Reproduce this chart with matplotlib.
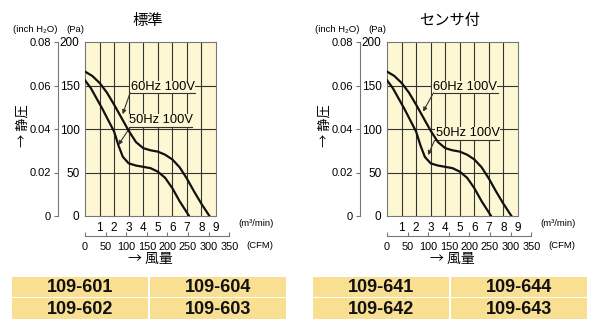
import numpy as np
import matplotlib
matplotlib.use('Agg')
import matplotlib.pyplot as plt
from matplotlib.patches import Rectangle

# fan P-Q curves, airflow in m3/min, static pressure in Pa
flow_60 = [0, 0.5, 1.0, 1.5, 2.0, 2.5, 3.0, 3.5, 4.0, 4.5, 5.0, 5.5, 6.0, 6.5, 7.0, 7.5, 8.0, 8.55]
pres_60 = [166, 161, 153, 142, 128, 113, 98, 85, 78, 75.5, 74, 70.5, 65, 56, 43, 28, 14, 0]
flow_50 = [0, 0.4, 0.8, 1.2, 1.6, 2.0, 2.15, 2.3, 2.6, 3.0, 3.5, 4.0, 4.5, 5.0, 5.5, 6.0, 6.5, 7.0, 7.15]
pres_50 = [156, 147, 135, 123, 110, 97, 89, 81, 68, 60.5, 58, 56.5, 55, 51, 44, 32, 17, 4, 0]

titles = ['標準', 'センサ付']
models_std = [['109-601', '109-604'], ['109-602', '109-603']]
models_sensor = [['109-641', '109-644'], ['109-642', '109-643']]

m3_ticks = [1, 2, 3, 4, 5, 6, 7, 8, 9]
pa_ticks = [0, 50, 100, 150, 200]
inch_ticks = [0, 0.02, 0.04, 0.06, 0.08]
inch_labels = ['0', '0.02', '0.04', '0.06', '0.08']
cfm_ticks = [0, 50, 100, 150, 200, 250, 300, 350]

W, H = 604, 332
NUM = ['Liberation Sans', 'DejaVu Sans']
JP = ['Noto Sans CJK JP', 'DejaVu Sans']
BG = '#fdf8d3'
CELL = '#f8df92'


def fx(px):
    return px / W


def fy(py):
    return 1 - py / H


fig = plt.figure(figsize=(W / 100, H / 100), dpi=100)
fig.patch.set_facecolor('white')


def panel(x0, title, models, tbl_x, lbl60, lbl50):
    pw, ph = 131, 174
    ax = fig.add_axes([fx(x0), fy(216), pw / W, ph / H])
    ax.set_facecolor(BG)
    ax.set_xlim(0, 9)
    ax.set_ylim(0, 200)
    for v in range(1, 9):
        ax.axvline(v, color='#333333', lw=0.8, zorder=1)
    for v in [50, 100, 150]:
        ax.axhline(v, color='#333333', lw=0.8, zorder=1)
    for s in ax.spines.values():
        s.set_color('#777777')
        s.set_linewidth(0.8)
    ax.plot(flow_60, pres_60, color='#111111', lw=1.6, zorder=5)
    ax.plot(flow_50, pres_50, color='#111111', lw=1.6, zorder=5)

    ax.set_xticks(m3_ticks)
    ax.set_xticklabels([str(t) for t in m3_ticks], family=NUM, fontsize=8.5)
    ax.set_yticks(pa_ticks)
    ax.set_yticklabels([str(t) for t in pa_ticks], family=NUM, fontsize=8.5)
    ax.tick_params(length=0, pad=4)

    # curve labels with underline and leader arrow
    for (tx, ty, ux0, ux1, uy, px, py), txt in [(lbl60, '60Hz 100V'), (lbl50, '50Hz 100V')]:
        ax.text(tx, ty, txt, ha='center', va='center', family=NUM, fontsize=9.3,
                zorder=4, bbox=dict(facecolor=BG, edgecolor='none', pad=0.3))
        ax.plot([ux0, ux1], [uy, uy], color='#333333', lw=0.8, zorder=4)
        ax.annotate('', xy=(px, py), xytext=(ux0, uy), zorder=4,
                    arrowprops=dict(arrowstyle='-|>', color='#333333', lw=0.8,
                                    mutation_scale=6, shrinkA=0, shrinkB=0))

    # inch H2O scale
    ax_in = fig.add_axes([fx(x0 - 27), fy(216), 0.0001, ph / H])
    ax_in.set_ylim(0, 0.08)
    ax_in.set_yticks(inch_ticks)
    ax_in.set_yticklabels(inch_labels, family=NUM, fontsize=8)
    ax_in.set_xticks([])
    for k in ['top', 'right', 'bottom']:
        ax_in.spines[k].set_visible(False)
    ax_in.spines['left'].set_color('#777777')
    ax_in.tick_params(axis='y', length=3, pad=2, color='#777777')
    ax_in.patch.set_visible(False)

    # CFM scale
    cfm_w = pw * 350 / (9 * 35.31)
    ax_c = fig.add_axes([fx(x0), fy(236), cfm_w / W, 0.0001])
    ax_c.set_xlim(0, 350)
    ax_c.set_xticks(cfm_ticks)
    ax_c.set_xticklabels([str(t) for t in cfm_ticks], family=NUM, fontsize=7.8)
    ax_c.set_yticks([])
    for k in ['top', 'right', 'left']:
        ax_c.spines[k].set_visible(False)
    ax_c.spines['bottom'].set_color('#777777')
    ax_c.tick_params(axis='x', direction='in', length=3, pad=4, color='#777777')
    ax_c.patch.set_visible(False)

    fig.text(fx(x0 + 63), fy(21), title, ha='center', va='center', family=JP, fontsize=11)
    fig.text(fx(x0 - 50), fy(30), '(inch H₂O)', ha='center', va='center', family=NUM, fontsize=6.8)
    fig.text(fx(x0 - 10), fy(30), '(Pa)', ha='center', va='center', family=NUM, fontsize=6.8)
    fig.text(fx(x0 + 171), fy(224), '(m³/min)', ha='center', va='center', family=NUM, fontsize=6.8)
    fig.text(fx(x0 + 175), fy(245), '(CFM)', ha='center', va='center', family=NUM, fontsize=6.8)
    fig.text(fx(x0 - 62), fy(126), '→ 静圧', ha='center', va='center', rotation=90,
             family=JP, fontsize=9.5)
    fig.text(fx(x0 + 65), fy(259), '→ 風量', ha='center', va='center', family=JP, fontsize=10)

    # model number table
    rows = [(277, 297), (298, 319)]
    cols = [(tbl_x, tbl_x + 136), (tbl_x + 138, tbl_x + 274)]
    for r, (ry0, ry1) in enumerate(rows):
        for c, (cx0, cx1) in enumerate(cols):
            fig.add_artist(Rectangle((fx(cx0), fy(ry1)), (cx1 - cx0) / W, (ry1 - ry0) / H,
                                     transform=fig.transFigure, facecolor=CELL, edgecolor='none'))
            fig.text(fx((cx0 + cx1) / 2), fy((ry0 + ry1) / 2 + 0.5), models[r][c],
                     ha='center', va='center', family=NUM, fontsize=13, weight='bold',
                     color='#111111')


panel(85, titles[0], models_std, 12,
      (5.35, 148, 3.1, 7.55, 141.7, 2.59, 117),
      (5.25, 110, 3.1, 7.33, 102, 2.29, 81.6))
panel(387, titles[1], models_sensor, 313,
      (5.35, 148, 3.2, 7.6, 141.7, 2.48, 120),
      (5.55, 95, 3.27, 7.7, 87, 2.82, 70))

fig.savefig('out.png', dpi=100)
